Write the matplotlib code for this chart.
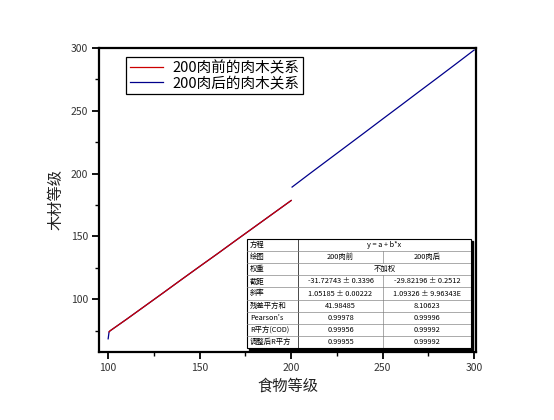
import numpy as np
import matplotlib.pyplot as plt
from matplotlib.patches import Rectangle
from matplotlib.ticker import MultipleLocator

plt.rcParams['font.family'] = ['Noto Sans CJK SC', 'DejaVu Sans']

# 200肉前 (red)
x_qian = [100.5, 101, 110, 120, 130, 140, 150, 160, 170, 180, 190, 200]
y_qian = [74.0, 74.8, 84.0, 94.5, 105.0, 115.6, 126.1, 136.5, 147.1, 157.6, 168.1, 178.6]

# 200肉后 (blue); the part under 200 is hidden below the red line
x_hou = [100, 100.5, 101, 110, 120, 130, 140, 150, 160, 170, 180, 190, 200,
         np.nan, 200.5, 210, 220, 230, 240, 250, 260, 270, 280, 290, 300]
y_hou = [68.5, 74.0, 74.8, 84.0, 94.5, 105.0, 115.6, 126.1, 136.5, 147.1, 157.6, 168.1, 178.6,
         np.nan, 189.3, 199.8, 210.7, 221.6, 232.5, 243.5, 254.4, 265.4, 276.3, 287.3, 298.4]

labels = ['200肉前的肉木关系', '200肉后的肉木关系']

# fit table
tab_rows = ['方程', '绘图', '权重', '截距', '斜率', '残差平方和', "Pearson's", 'R平方(COD)', '调整后R平方']
tab_col1 = ['y = a + b*x', '200肉前', '不加权', '-31.72743 ± 0.3396', '1.05185 ± 0.00222',
            '41.98485', '0.99978', '0.99956', '0.99955']
tab_col2 = [None, '200肉后', None, '-29.82196 ± 0.2512', '1.09326 ± 9.96343E',
            '8.10623', '0.99996', '0.99992', '0.99992']

W, H = 554, 420
fig = plt.figure(figsize=(W / 100, H / 100), dpi=100)
ax = fig.add_axes([99 / W, 1 - 352 / H, 377 / W, 304 / H])

ax.plot(x_hou, y_hou, color='#00008b', lw=0.9, label=labels[1])
ax.plot(x_qian, y_qian, color='#cc0000', lw=0.9, label=labels[0])

ax.set_xlim(95, 301)
ax.set_ylim(58, 300)
ax.xaxis.set_major_locator(MultipleLocator(50))
ax.xaxis.set_minor_locator(MultipleLocator(25))
ax.yaxis.set_major_locator(MultipleLocator(50))
ax.yaxis.set_minor_locator(MultipleLocator(25))
ax.tick_params(which='major', direction='out', length=5, width=1.3, labelsize=7.5, pad=3,
               labelcolor='#333333')
ax.tick_params(which='minor', direction='out', length=3, width=1.0)
for s in ax.spines.values():
    s.set_linewidth(1.6)

ax.set_xlabel('食物等级', fontsize=11, labelpad=3, color='#222222')
ax.set_ylabel('木材等级', fontsize=11, labelpad=4, color='#222222')

h, l = ax.get_legend_handles_labels()
leg = ax.legend(h[::-1], l[::-1], loc='upper left', bbox_to_anchor=(0.072, 0.97),
                fontsize=10.5, fancybox=False, framealpha=1, edgecolor='black',
                handlelength=2.3, handletextpad=0.6, borderpad=0.25, labelspacing=0.1,
                borderaxespad=0)
leg.get_frame().set_linewidth(0.9)

# table in an inset
tx = fig.add_axes([247 / W, 1 - 348 / H, 224 / W, 109 / H])
tx.set_xlim(0, 224)
tx.set_ylim(109, 0)
tx.axis('off')
tx.add_patch(Rectangle((2, 2), 224, 109, color='black', clip_on=False, zorder=0))
tx.add_patch(Rectangle((0, 0), 224, 109, facecolor='white', edgecolor='black', lw=0.8,
                       clip_on=False, zorder=1))
c1, c2 = 51, 136
rh = 109 / len(tab_rows)
tx.plot([c1, c1], [0, 109], color='black', lw=0.5, zorder=2)
for i in range(1, len(tab_rows)):
    tx.plot([0, 224], [i * rh, i * rh], color='#888888', lw=0.5, zorder=2)
fs = 5.3
for i, name in enumerate(tab_rows):
    yc = (i + 0.5) * rh
    tx.text(3, yc, name, fontsize=fs, va='center', ha='left', zorder=3)
    if tab_col2[i] is None:
        tx.text((c1 + 224) / 2, yc, tab_col1[i], fontsize=fs, va='center', ha='center', zorder=3)
    else:
        tx.plot([c2, c2], [i * rh, (i + 1) * rh], color='#888888', lw=0.5, zorder=2)
        tx.text((c1 + c2) / 2, yc, tab_col1[i], fontsize=fs, va='center', ha='center', zorder=3)
        tx.text((c2 + 224) / 2, yc, tab_col2[i], fontsize=fs, va='center', ha='center', zorder=3)

fig.savefig('out.png', dpi=100)
